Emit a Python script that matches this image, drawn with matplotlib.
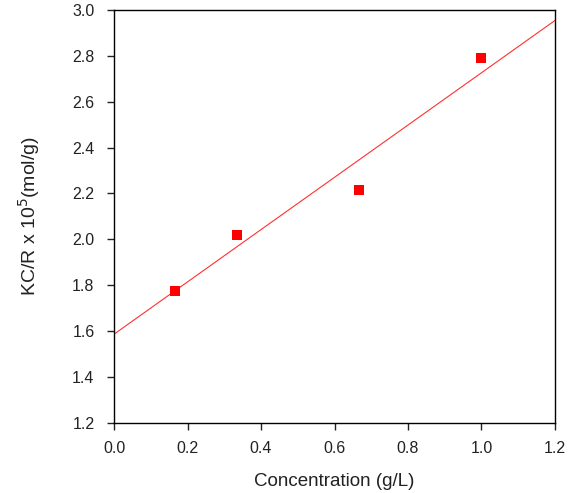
import numpy as np
import matplotlib
matplotlib.use("Agg")
import matplotlib.pyplot as plt

plt.rcParams['font.family'] = ['Liberation Sans', 'DejaVu Sans']

conc = [0.1667, 0.3333, 0.6667, 1.0]
kcr = [1.775, 2.02, 2.215, 2.79]
fit_intercept = 1.587
fit_slope = 1.139
fit_x = [0.0, 1.2]

xticks = [0.0, 0.2, 0.4, 0.6, 0.8, 1.0, 1.2]
yticks = [1.2, 1.4, 1.6, 1.8, 2.0, 2.2, 2.4, 2.6, 2.8, 3.0]

fig = plt.figure(figsize=(5.76, 4.93), dpi=100)
ax = fig.add_axes([0.198, 0.142, 0.7655, 0.838])

fx = np.array(fit_x)
ax.plot(fx, fit_intercept + fit_slope * fx, color='#ff3030', lw=0.8, zorder=2)
ax.plot(conc, kcr, 's', color='#ff0000', markersize=7, markeredgewidth=0, zorder=3)

ax.set_xlim(0, 1.2)
ax.set_ylim(1.2, 3.0)
ax.set_xticks(xticks)
ax.set_yticks(yticks)
ax.set_xticklabels([f"{v:.1f}" for v in xticks])
ax.set_yticklabels([f"{v:.1f}" for v in yticks])
ax.tick_params(direction='out', length=5, width=1, labelsize=11.5, colors='#222222')
ax.tick_params(axis='x', pad=8)
ax.tick_params(axis='y', pad=9)
for s in ax.spines.values():
    s.set_linewidth(1)
ax.set_xlabel("Concentration (g/L)", fontsize=13.5, labelpad=12, color='#222222')
ax.set_ylabel(r"KC/R x 10$^{5}$(mol/g)", fontsize=14, labelpad=22, color='#222222')

fig.savefig("out.png", dpi=100)
